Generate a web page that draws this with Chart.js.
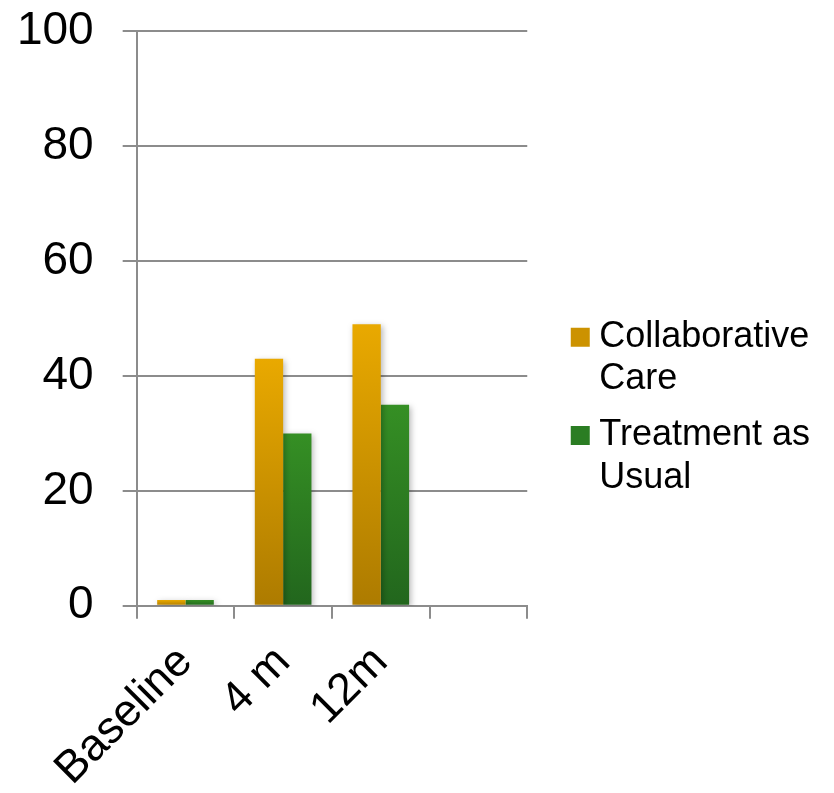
<!DOCTYPE html>
<html>
<head>
<meta charset="utf-8">
<script src="https://cdn.jsdelivr.net/npm/chart.js@4"></script>
<style>
  html, body { margin: 0; padding: 0; background: #fff; }
  #wrap { width: 834px; height: 793px; }
</style>
</head>
<body>
<div id="wrap"><canvas id="bars"></canvas></div>
<script>
const categories = ['Baseline', '4 m', '12m', ''];
const collaborativeCare = [1, 43, 49, null];
const treatmentAsUsual = [1, 30, 35, null];
const seriesNames = [['Collaborative', 'Care'], ['Treatment as', 'Usual']];
const yMax = 100;
const yStep = 20;

const FONT = '"Liberation Sans", Arial, sans-serif';
const GRID = '#8c8c8c';

// vertical gradient for each bar, from its top down to the zero line
function barFill(topColor, bottomColor) {
  return function (c) {
    const chart = c.chart;
    const y = chart.scales.y;
    if (!y || !c.parsed || c.parsed.y == null) return topColor;
    const top = y.getPixelForValue(c.parsed.y);
    const base = y.getPixelForValue(0);
    if (!isFinite(top) || !isFinite(base) || top === base) return topColor;
    const g = chart.ctx.createLinearGradient(0, top, 0, base);
    g.addColorStop(0, topColor);
    g.addColorStop(1, bottomColor);
    return g;
  };
}

// soft drop shadow under the bars
const barShadow = {
  id: 'barShadow',
  beforeDatasetsDraw(chart) {
    const ctx = chart.ctx;
    ctx.save();
    ctx.shadowColor = 'rgba(0,0,0,0.28)';
    ctx.shadowBlur = 6;
    ctx.shadowOffsetX = 2;
    ctx.shadowOffsetY = 2;
  },
  afterDatasetsDraw(chart) {
    chart.ctx.restore();
  }
};

const legendColors = ['#cc9200', '#2b7d23'];

new Chart(document.getElementById('bars'), {
  type: 'bar',
  data: {
    labels: categories,
    datasets: [
      {
        label: seriesNames[0].join(' '),
        data: collaborativeCare,
        backgroundColor: barFill('#e9a900', '#ad7b00'),
        categoryPercentage: 0.58,
        barPercentage: 1.0
      },
      {
        label: seriesNames[1].join(' '),
        data: treatmentAsUsual,
        backgroundColor: barFill('#358f24', '#22661d'),
        categoryPercentage: 0.58,
        barPercentage: 1.0
      }
    ]
  },
  options: {
    responsive: true,
    maintainAspectRatio: false,
    animation: false,
    layout: { padding: { left: 0, top: 0, right: 14, bottom: -20 } },
    plugins: {
      tooltip: { enabled: false },
      legend: {
        position: 'right',
        maxWidth: 320,
        title: { display: true, text: ' ', font: { size: 8, lineHeight: 1 }, padding: 0 },
        labels: {
          color: '#000',
          font: { family: FONT, size: 36, lineHeight: 1.17 },
          usePointStyle: true,
          boxWidth: 2,
          boxHeight: 19,
          padding: 14,
          generateLabels(chart) {
            return chart.data.datasets.map((ds, i) => ({
              text: seriesNames[i],
              fontColor: '#000',
              fillStyle: legendColors[i],
              strokeStyle: legendColors[i],
              lineWidth: 0,
              pointStyle: 'rect',
              hidden: false,
              datasetIndex: i
            }));
          }
        }
      }
    },
    scales: {
      x: {
        offset: true,
        grid: {
          offset: true,
          drawOnChartArea: false,
          drawTicks: true,
          tickLength: 13,
          color: GRID,
          lineWidth: 2
        },
        border: { color: GRID, width: 2 },
        ticks: {
          color: '#000',
          font: { family: FONT, size: 45 },
          maxRotation: 45,
          minRotation: 45,
          padding: 17
        }
      },
      y: {
        min: 0,
        max: yMax,
        grid: {
          color: GRID,
          lineWidth: 2,
          tickLength: 14
        },
        border: { color: GRID, width: 2 },
        ticks: {
          stepSize: yStep,
          color: '#000',
          // small lineHeight keeps the top label from padding the plot downwards
          font: { family: FONT, size: 46, lineHeight: 0.1 },
          padding: 29
        }
      },
      gap: {
        position: 'right',
        display: true,
        grid: { display: false, drawTicks: false },
        border: { display: false },
        ticks: { display: false },
        afterFit(s) { s.width = 38; }
      }
    }
  },
  plugins: [barShadow]
});
</script>
</body>
</html>
